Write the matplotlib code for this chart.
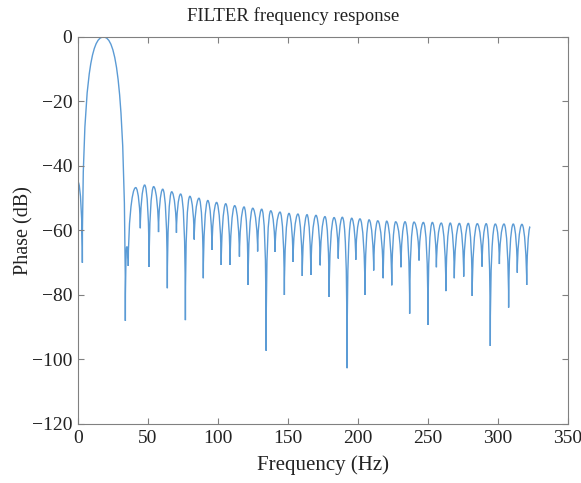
import numpy as np
import matplotlib
matplotlib.use("Agg")
import matplotlib.pyplot as plt
from matplotlib.path import Path
from matplotlib.patches import PathPatch

plt.rcParams['font.family'] = ['Liberation Serif', 'DejaVu Serif']

# lobe peaks (Hz, dB); first/last are the curve ends
peak_hz = [0.0, 18.1, 34.8, 41.2, 47.6, 54.0, 60.5, 66.9, 73.3, 79.9, 86.4, 92.7, 99.0,
           105.5, 111.9, 118.6, 124.8, 131.2, 137.7, 144.3, 150.7, 157.1, 163.6, 170.0,
           176.4, 182.9, 188.8, 195.5, 201.4, 207.9, 214.1, 220.5, 226.9, 233.6, 240.0,
           246.7, 253.1, 259.5, 265.9, 272.4, 278.8, 285.2, 291.6, 298.1, 304.3, 310.9,
           317.1, 323.0]
peak_db = [-45, 0, -65, -46.7, -45.9, -46.4, -47.2, -48.0, -48.7, -49.4, -50.0, -50.7, -51.3,
           -51.7, -52.3, -52.7, -53.1, -53.4, -53.9, -54.3, -54.7, -54.9, -55.1, -55.3,
           -55.7, -56.0, -55.9, -56.2, -56.4, -56.7, -57.0, -57.1, -57.3, -57.3, -57.4,
           -57.5, -57.5, -57.7, -57.7, -57.8, -57.8, -57.9, -57.9, -58.0, -58.0, -58.0,
           -58.1, -58.8]

# nulls between the peaks
null_hz = [3.1, 33.8, 35.9, 44.5, 50.8, 57.5, 63.8, 70.3, 76.7, 83.0, 89.5, 95.7, 102.3,
           108.6, 115.3, 121.5, 128.3, 134.4, 140.7, 147.4, 153.6, 160.2, 166.3, 173.0,
           179.4, 185.9, 192.2, 198.4, 205.0, 211.2, 218.0, 224.1, 230.7, 236.9, 243.6,
           250.0, 256.0, 262.8, 268.8, 275.5, 281.6, 288.6, 294.5, 301.0, 307.6, 313.8, 320.5]
null_db = [-70, -88, -71, -59.3, -71.3, -60.5, -77.9, -60.7, -87.8, -62.8, -74.8, -66.0, -70.7,
           -70.7, -68.1, -76.9, -66.5, -97.3, -66.6, -80.0, -69.7, -74.1, -73.8, -70.8,
           -80.6, -68.7, -102.7, -69.1, -80.0, -72.4, -74.8, -77.0, -71.4, -85.8, -69.3,
           -89.3, -71.4, -78.8, -74.8, -74.3, -80.3, -71.2, -95.8, -70.4, -83.9, -73.1, -76.9]

x_ticks = [0, 50, 100, 150, 200, 250, 300, 350]
y_ticks = [-120, -100, -80, -60, -40, -20, 0]

LINE = '#5b9bd5'
GRAY = '#808080'
TEXT = '#222222'


def lobe_path(ph, pd, nh, nd):
    # smooth lobes: flat at each peak, steep into each null
    verts = [(ph[0], pd[0])]
    codes = [Path.MOVETO]
    for i in range(len(nh)):
        fp, dp, fn, dn = ph[i], pd[i], nh[i], nd[i]
        k = min(12, 0.6 * (dp - dn))
        verts += [(fp + 0.55 * (fn - fp), dp), (fn, dp - k), (fn, dn)]
        codes += [Path.CURVE4] * 3
        fp, dp = ph[i + 1], pd[i + 1]
        k = min(12, 0.6 * (dp - dn))
        verts += [(fn, dp - k), (fp - 0.55 * (fp - fn), dp), (fp, dp)]
        codes += [Path.CURVE4] * 3
    return Path(verts, codes)


fig = plt.figure(figsize=(5.81, 4.83), dpi=100)
ax = fig.add_axes([0.1343, 0.1222, 0.8433, 0.8012])

ax.add_patch(PathPatch(lobe_path(peak_hz, peak_db, null_hz, null_db),
                       fill=False, edgecolor=LINE, lw=1.0))

ax.set_xlim(0, 350)
ax.set_ylim(-120, 0)
ax.set_xticks(x_ticks)
ax.set_yticks(y_ticks)
ax.tick_params(direction='in', top=True, right=True, length=4, width=0.8,
               color=GRAY, labelsize=14, labelcolor=TEXT, pad=4)
for s in ax.spines.values():
    s.set_color(GRAY)
    s.set_linewidth(0.8)

ax.set_xlabel('Frequency (Hz)', fontsize=15, color=TEXT, labelpad=6)
ax.set_ylabel('Phase (dB)', fontsize=14.5, color=TEXT, labelpad=-1)
# title sits a little left of the axes centre in the original
fig.text(293 / 581, 1 - 21 / 483, 'FILTER frequency response', fontsize=13.5,
         color=TEXT, ha='center', va='baseline')

fig.savefig('out.png', dpi=100)
